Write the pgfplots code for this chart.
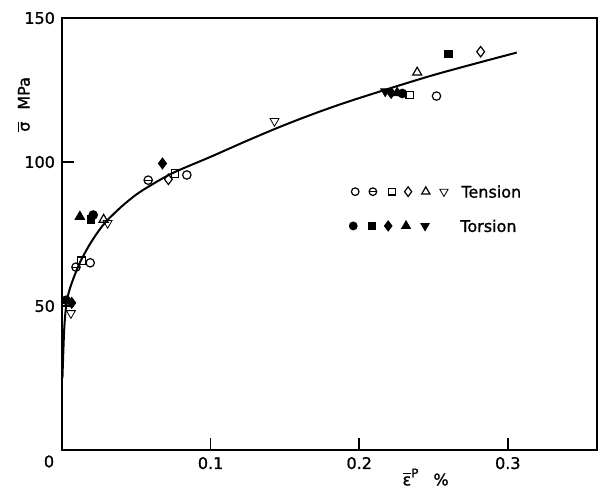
\documentclass[border=0pt]{standalone}
\usepackage{pgfplots}
\pgfplotsset{compat=1.18}
\usepackage{fontspec}
\setmainfont{DejaVu Sans}[FakeBold=1.2]

\begin{document}
\begin{tikzpicture}
\begin{axis}[
  scale only axis, width=267.5pt, height=216pt,
  xmin=0, xmax=0.36, ymin=0, ymax=150,
  axis line style={line width=1pt},
  tick align=inside, xtick pos=left, ytick pos=left,
  xtick={0.1,0.2,0.3}, xticklabels={0.1,0.2,0.3},
  ytick={50,100,150}, yticklabels={50,100,150},
  major tick length=6pt,
  tick style={line width=0.8pt, black},
  tick label style={font=\fontsize{8}{9}\selectfont},
  clip=false,
  op/.style={only marks, black, mark size=2.1pt, mark options={line width=0.6pt, solid, fill=white}},
  fl/.style={only marks, black, mark size=2.1pt, mark options={line width=0.6pt, solid, fill=black}},
]
% fitted curve
\addplot[black, line width=1pt, smooth, no marks] coordinates {
 (0.0003,25) (0.0015,42) (0.003,51) (0.005,55.5) (0.008,60) (0.012,65)
 (0.016,69) (0.02,72.5) (0.025,76.3) (0.03,79.5) (0.04,84.5) (0.05,88.7)
 (0.06,92) (0.075,96.3) (0.1,101.8) (0.125,107.5) (0.15,112.9) (0.175,117.8)
 (0.2,122.2) (0.25,130.2) (0.306,138)};

% Tension (open marks)
\addplot[op, mark=o] coordinates {(0.019,65) (0.084,95.5) (0.252,122.9)};
\addplot[op, mark=o] coordinates {(0.0094,63.5) (0.058,93.7)};
\addplot[op, mark=-] coordinates {(0.0094,63.5) (0.058,93.7)};
\addplot[op, mark=square, mark size=1.9pt] coordinates {(0.0132,65.7) (0.076,96) (0.234,123.3)};
\addplot[op, mark=diamond, mark size=2.6pt] coordinates {(0.0716,94) (0.2817,138.3)};
\addplot[op, mark=triangle, mark size=2.6pt] coordinates {(0.028,80) (0.239,131.1)};
\addplot[op, mark=triangle, mark size=2.6pt, mark options={rotate=180}] coordinates {(0.006,47.5) (0.0307,78.8) (0.143,114.2)};

% Torsion (filled marks)
\addplot[fl, mark=*] coordinates {(0.021,81.6) (0.0027,52) (0.229,123.8)};
\addplot[fl, mark=square*, mark size=1.9pt] coordinates {(0.0195,80) (0.26,137.5)};
\addplot[fl, mark=diamond*, mark size=2.6pt] coordinates {(0.0676,99.5) (0.0065,51.1) (0.2215,124)};
\addplot[fl, mark=triangle*, mark size=2.6pt] coordinates {(0.012,81) (0.2255,124)};
\addplot[fl, mark=triangle*, mark size=2.6pt, mark options={rotate=180}] coordinates {(0.2175,124.5)};

% legend keys
\addplot[op, mark=o, mark size=1.9pt] coordinates {(0.1973,89.7)};
\addplot[op, mark=o, mark size=1.9pt] coordinates {(0.2092,89.7)};
\addplot[op, mark=-, mark size=1.9pt] coordinates {(0.2092,89.7)};
\addplot[op, mark=square, mark size=1.7pt] coordinates {(0.2221,89.7)};
\addplot[op, mark=diamond, mark size=2.4pt] coordinates {(0.2329,89.7)};
\addplot[op, mark=triangle, mark size=2.4pt] coordinates {(0.2448,89.7)};
\addplot[op, mark=triangle, mark size=2.4pt, mark options={rotate=180}] coordinates {(0.2570,89.7)};
\addplot[fl, mark=*, mark size=1.9pt] coordinates {(0.196,77.8)};
\addplot[fl, mark=square*, mark size=1.7pt] coordinates {(0.2085,77.8)};
\addplot[fl, mark=diamond*, mark size=2.4pt] coordinates {(0.2195,77.8)};
\addplot[fl, mark=triangle*, mark size=2.4pt] coordinates {(0.2315,77.8)};
\addplot[fl, mark=triangle*, mark size=2.4pt, mark options={rotate=180}] coordinates {(0.2443,77.8)};
\node[anchor=west, inner sep=0, font=\fontsize{8}{10}\selectfont] at (axis cs:0.2685,89.7) {Tension};
\node[anchor=west, inner sep=0, font=\fontsize{8}{10}\selectfont] at (axis cs:0.2678,77.8) {Torsion};

% labels
\node[anchor=north east, inner sep=0, xshift=-3.75pt, yshift=-2.5pt, font=\fontsize{8}{9}\selectfont] at (rel axis cs:0,0) {0};
\node[rotate=90, inner sep=0, font=\fontsize{8}{10}\selectfont] at (axis cs:-0.026,120) {$\overline{\mbox{σ}}$\hspace{6pt}MPa};
\node[anchor=west, inner sep=0, font=\fontsize{8}{10}\selectfont] at (axis cs:0.2289,-9.4) {$\overline{\mbox{ε}}^{\mbox{\fontsize{6}{7}\selectfont P}}$\hspace{7pt}\%};
\end{axis}
\path ([xshift=-31pt,yshift=-22pt]current axis.south west) rectangle ([xshift=0.5pt,yshift=9pt]current axis.north east);
\end{tikzpicture}
\end{document}
